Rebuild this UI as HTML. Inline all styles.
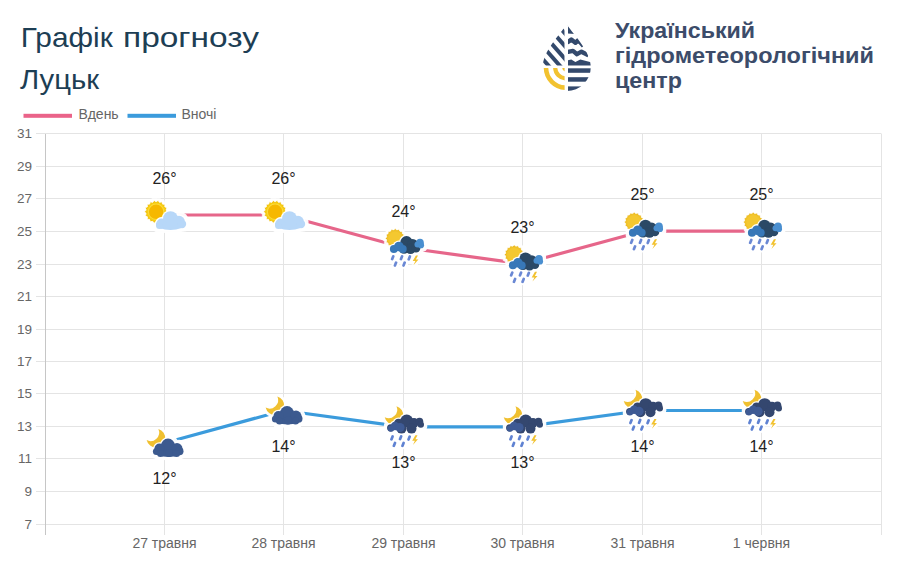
<!DOCTYPE html>
<html><head><meta charset="utf-8">
<style>
html,body{margin:0;padding:0;background:#fff;}
body{width:900px;height:588px;position:relative;overflow:hidden;font-family:"Liberation Sans",sans-serif;}
svg{position:absolute;left:0;top:0;}
.yl{font-size:13.5px;fill:#666;}
.xl{font-size:14px;fill:#666;}
.vl{font-size:16px;fill:#222;}
.t1{font-size:28px;fill:#1d3e54;}
.lg{font-size:14px;fill:#666;}
.ln{font-size:22px;font-weight:bold;fill:#3c4c6a;}
</style></head><body>
<svg width="900" height="588" viewBox="0 0 900 588">
<defs><filter id="glow" x="-40%" y="-40%" width="180%" height="180%" color-interpolation-filters="sRGB">
<feMorphology in="SourceAlpha" operator="dilate" radius="1.5" result="d"/>
<feGaussianBlur in="d" stdDeviation="0.6" result="b"/>
<feFlood flood-color="#ffffff" flood-opacity="0.95"/>
<feComposite in2="b" operator="in" result="w"/>
<feMerge><feMergeNode in="w"/><feMergeNode in="SourceGraphic"/></feMerge>
</filter><g id="sunc">
<polygon points="3.20,-3.20 1.45,-1.46 2.50,0.77 0.26,1.80 0.49,4.26 -1.97,4.46 -2.60,6.85 -4.98,6.20 -6.39,8.22 -8.40,6.80 -10.41,8.22 -11.82,6.20 -14.20,6.85 -14.83,4.46 -17.29,4.26 -17.06,1.80 -19.30,0.77 -18.25,-1.46 -20.00,-3.20 -18.25,-4.94 -19.30,-7.17 -17.06,-8.20 -17.29,-10.66 -14.83,-10.86 -14.20,-13.25 -11.82,-12.60 -10.41,-14.62 -8.40,-13.20 -6.39,-14.62 -4.98,-12.60 -2.60,-13.25 -1.97,-10.86 0.49,-10.66 0.26,-8.20 2.50,-7.17 1.45,-4.94" fill="#f0c010" stroke="#fff" stroke-width="0.8"/>
<circle cx="-8.4" cy="-3.2" r="9.6" fill="#f7cd14"/>
<circle cx="-8.4" cy="-3.2" r="8.2" fill="#fadc3c"/>
<circle cx="-8.4" cy="-3.2" r="7.2" fill="#f6b800"/>
<ellipse cx="6" cy="9.3" rx="15.9" ry="7.0" fill="#fff"/><circle cx="6" cy="3.6" r="8.8" fill="#fff"/><circle cx="14.5" cy="6.5" r="7.199999999999999" fill="#fff"/><circle cx="17.5" cy="9" r="5.6" fill="#fff"/><circle cx="-3" cy="8.5" r="6.4" fill="#fff"/><circle cx="-5" cy="10.5" r="4.9" fill="#fff"/><ellipse cx="6" cy="9.3" rx="14.5" ry="5.6" fill="#b7d7f8"/><circle cx="6" cy="3.6" r="7.4" fill="#b7d7f8"/><circle cx="14.5" cy="6.5" r="5.8" fill="#b7d7f8"/><circle cx="17.5" cy="9" r="4.2" fill="#b7d7f8"/><circle cx="-3" cy="8.5" r="5" fill="#b7d7f8"/><circle cx="-5" cy="10.5" r="3.5" fill="#b7d7f8"/>
</g><g id="storm">
<polygon points="1.50,-9.10 -0.06,-7.46 0.75,-5.35 -1.32,-4.43 -1.37,-2.17 -3.63,-2.12 -4.55,-0.05 -6.66,-0.86 -8.30,0.70 -9.94,-0.86 -12.05,-0.05 -12.97,-2.12 -15.23,-2.17 -15.28,-4.43 -17.35,-5.35 -16.54,-7.46 -18.10,-9.10 -16.54,-10.74 -17.35,-12.85 -15.28,-13.77 -15.23,-16.03 -12.97,-16.08 -12.05,-18.15 -9.94,-17.34 -8.30,-18.90 -6.66,-17.34 -4.55,-18.15 -3.63,-16.08 -1.37,-16.03 -1.32,-13.77 0.75,-12.85 -0.06,-10.74" fill="#eab81c" stroke="#fff" stroke-width="0.6"/>
<circle cx="-8.3" cy="-9.1" r="8.3" fill="#f0c22a"/>
<circle cx="-8.3" cy="-9.1" r="7" fill="#f4c830"/>
<circle cx="3" cy="-5.2" r="7.5" fill="#fff"/><circle cx="9.2" cy="-3.2" r="6.7" fill="#fff"/><circle cx="7" cy="1.4" r="6.5" fill="#fff"/><circle cx="0.5" cy="1" r="6.5" fill="#fff"/><circle cx="12.5" cy="0.8" r="5.6" fill="#fff"/><circle cx="16.5" cy="-5" r="5.1" fill="#fff"/><circle cx="17.5" cy="-2.3" r="4.4" fill="#fff"/><circle cx="14" cy="-3" r="4.3" fill="#fff"/><circle cx="-9.6" cy="1.5" r="5.3" fill="#fff"/><circle cx="-4.6" cy="-1" r="6.1" fill="#fff"/><circle cx="-0.8" cy="1.6" r="5.3" fill="#fff"/><circle cx="3" cy="-5.2" r="6.2" fill="#2b4966"/><circle cx="9.2" cy="-3.2" r="5.4" fill="#2b4966"/><circle cx="7" cy="1.4" r="5.2" fill="#2b4966"/><circle cx="0.5" cy="1" r="5.2" fill="#2b4966"/><circle cx="12.5" cy="0.8" r="4.3" fill="#2b4966"/><circle cx="16.5" cy="-5" r="3.8" fill="#4a8fd0"/><circle cx="17.5" cy="-2.3" r="3.1" fill="#4a8fd0"/><circle cx="14" cy="-3" r="3" fill="#4a8fd0"/><circle cx="-9.6" cy="1.5" r="4" fill="#3878b8"/><circle cx="-4.6" cy="-1" r="4.8" fill="#3878b8"/><circle cx="-0.8" cy="1.6" r="4" fill="#3878b8"/>
<rect x="-12.15" y="7.40" width="2.7" height="5.6" rx="1.2" fill="#6a88d4" transform="rotate(22 -10.8 10.2)"/><rect x="-3.35" y="7.40" width="2.7" height="5.6" rx="1.2" fill="#6a88d4" transform="rotate(22 -2 10.2)"/><rect x="4.45" y="7.60" width="2.7" height="5.6" rx="1.2" fill="#6a88d4" transform="rotate(22 5.8 10.4)"/><rect x="-9.35" y="13.80" width="2.7" height="5.6" rx="1.2" fill="#6a88d4" transform="rotate(22 -8 16.6)"/><rect x="-0.75" y="13.80" width="2.7" height="5.6" rx="1.2" fill="#6a88d4" transform="rotate(22 0.6 16.6)"/>
<path d="M12.4,8.0 L9.2,13.6 L11.9,13.6 L9.9,17.8 L15.0,12.1 L12.4,12.1 L14.5,8.0 Z" fill="#f2c230"/>
</g><g id="moonc">
<path d="M-6.12,-14.04 A9.4,9.4 0 1 1 -17.87,-2.92 A8.6,8.6 0 0 0 -6.12,-14.04 Z" fill="#f0c030"/>
<ellipse cx="4" cy="8.2" rx="15.3" ry="7.1" fill="#fff"/><circle cx="3.5" cy="2.6" r="8.3" fill="#fff"/><circle cx="-5" cy="5.5" r="6.3" fill="#fff"/><circle cx="12.5" cy="5.6" r="6.8" fill="#fff"/><circle cx="15" cy="8.2" r="5.3" fill="#fff"/><circle cx="-8" cy="8.5" r="4.9" fill="#fff"/><circle cx="-4" cy="10.5" r="4.8" fill="#fff"/><circle cx="4.6" cy="10" r="5.3" fill="#fff"/><circle cx="12" cy="10.5" r="4.9" fill="#fff"/><ellipse cx="4" cy="8.2" rx="14" ry="5.8" fill="#3c5a8f"/><circle cx="3.5" cy="2.6" r="7" fill="#3c5a8f"/><circle cx="-5" cy="5.5" r="5" fill="#3c5a8f"/><circle cx="12.5" cy="5.6" r="5.5" fill="#3c5a8f"/><circle cx="15" cy="8.2" r="4" fill="#3c5a8f"/><circle cx="-8" cy="8.5" r="3.6" fill="#3c5a8f"/><circle cx="-4" cy="10.5" r="3.5" fill="#3c5a8f"/><circle cx="4.6" cy="10" r="4" fill="#3c5a8f"/><circle cx="12" cy="10.5" r="3.6" fill="#3c5a8f"/>
</g><g id="nstorm">
<path d="M-7.02,-20.64 A9.4,9.4 0 1 1 -18.77,-9.52 A8.6,8.6 0 0 0 -7.02,-20.64 Z" fill="#f0c030"/>
<circle cx="3.2" cy="-5.8" r="7.8" fill="#fff"/><circle cx="-5" cy="-3.5" r="5.8" fill="#fff"/><circle cx="-12.8" cy="1" r="4.9" fill="#fff"/><circle cx="10.5" cy="-4" r="6.1" fill="#fff"/><circle cx="16" cy="-5.2" r="5.1" fill="#fff"/><circle cx="17.3" cy="-2.2" r="4.5" fill="#fff"/><circle cx="8" cy="1.8" r="6.3" fill="#fff"/><circle cx="-2" cy="1.8" r="6.3" fill="#fff"/><circle cx="-8.5" cy="-0.8" r="5.5" fill="#fff"/><circle cx="-12.6" cy="1.8" r="4.5" fill="#fff"/><circle cx="-3.5" cy="0.8" r="5.8999999999999995" fill="#fff"/><circle cx="3.2" cy="-5.8" r="6.5" fill="#34476f"/><circle cx="-5" cy="-3.5" r="4.5" fill="#34476f"/><circle cx="-12.8" cy="1" r="3.6" fill="#34476f"/><circle cx="10.5" cy="-4" r="4.8" fill="#34476f"/><circle cx="16" cy="-5.2" r="3.8" fill="#34476f"/><circle cx="17.3" cy="-2.2" r="3.2" fill="#34476f"/><circle cx="8" cy="1.8" r="5" fill="#34476f"/><circle cx="-2" cy="1.8" r="5" fill="#34476f"/><circle cx="-8.5" cy="-0.8" r="4.2" fill="#3e5a94"/><circle cx="-12.6" cy="1.8" r="3.2" fill="#3e5a94"/><circle cx="-3.5" cy="0.8" r="4.6" fill="#3e5a94"/>
<rect x="-12.85" y="8.30" width="2.7" height="5.6" rx="1.2" fill="#5f82d2" transform="rotate(22 -11.5 11.1)"/><rect x="-4.25" y="8.10" width="2.7" height="5.6" rx="1.2" fill="#5f82d2" transform="rotate(22 -2.9 10.9)"/><rect x="4.25" y="8.50" width="2.7" height="5.6" rx="1.2" fill="#5f82d2" transform="rotate(22 5.6 11.3)"/><rect x="-10.45" y="14.80" width="2.7" height="5.6" rx="1.2" fill="#5f82d2" transform="rotate(22 -9.1 17.6)"/><rect x="-1.85" y="14.80" width="2.7" height="5.6" rx="1.2" fill="#5f82d2" transform="rotate(22 -0.5 17.6)"/>
<path d="M11.9,8.4 L8.7,14.0 L11.4,14.0 L9.4,18.2 L14.5,12.5 L11.9,12.5 L14.0,8.4 Z" fill="#f2c230"/>
</g></defs>
<text x="20.8" y="47.3" class="t1" textLength="92" lengthAdjust="spacingAndGlyphs">Графік</text><text x="123" y="47.3" class="t1" textLength="136" lengthAdjust="spacingAndGlyphs">прогнозу</text>
<text x="20" y="88.6" class="t1" textLength="79" lengthAdjust="spacingAndGlyphs">Луцьк</text>
<rect x="23.5" y="113.8" width="48.5" height="4" fill="#ea6389"/>
<text x="78.5" y="119.4" class="lg">Вдень</text>
<rect x="127.5" y="113.8" width="48.5" height="4" fill="#3b9bdc"/>
<text x="181.5" y="119.4" class="lg">Вночі</text>
<clipPath id="dropclip"><path d="M566.7,24.5 C575,36 590.8,52 590.8,67 A24,24 0 0 1 542.8,67 C542.8,52 558.4,36 566.7,24.5 Z"/></clipPath>
<clipPath id="ulclip"><rect x="540" y="20" width="24.8" height="45.6"/></clipPath>
<clipPath id="llclip"><rect x="540" y="68" width="25" height="30"/></clipPath>
<g clip-path="url(#dropclip)">
  <g clip-path="url(#ulclip)" stroke="#33496c" stroke-width="4"><line x1="544.4" y1="10" x2="619.2" y2="95"/><line x1="533.2" y1="10" x2="608.0" y2="95"/><line x1="522.0" y1="10" x2="596.8" y2="95"/><line x1="510.8" y1="10" x2="585.6" y2="95"/><line x1="499.6" y1="10" x2="574.4" y2="95"/><line x1="488.4" y1="10" x2="563.2" y2="95"/></g>
  <g clip-path="url(#llclip)" fill="none" stroke="#f2c230">
    <circle cx="566.2" cy="67.5" r="20.2" stroke-width="4.6"/>
    <circle cx="566.2" cy="67.5" r="11" stroke-width="4.2"/>
    <circle cx="566.2" cy="67.5" r="2.6" stroke-width="2.8"/>
  </g>
  <g fill="none" stroke="#33496c" stroke-width="4.4" stroke-linejoin="round">
    <polyline points="565,42.3 568,42 571.3,39.6 575.4,42.8 578.3,40.1 583.5,46"/>
    <polyline points="565,52 568,51.9 573,50.9 577,54.2 581.5,51.7 588.5,55.4"/>
  </g>
  <g fill="#33496c">
    <path d="M567.8,24 L567.8,33.6 L575,34 Z"/>
    <path d="M568,60.3 L571.3,59.4 L575.4,62 L580.3,59.6 L590,62 L593,62 L593,65.4 L568,65.4 Z"/>
    <rect x="568" y="68.3" width="25" height="4.5"/>
    <rect x="568" y="77.2" width="25" height="4.5"/>
    <rect x="568" y="86.4" width="25" height="8"/>
  </g>
  <rect x="564.6" y="20" width="3.4" height="80" fill="#fff"/>
</g>

<text x="615" y="38.4" class="ln" textLength="140" lengthAdjust="spacingAndGlyphs">Український</text>
<text x="615" y="63.1" class="ln" textLength="259" lengthAdjust="spacingAndGlyphs">гідрометеорологічний</text>
<text x="615" y="87.8" class="ln" textLength="67" lengthAdjust="spacingAndGlyphs">центр</text>
<line x1="36" y1="524.5" x2="881.5" y2="524.5" stroke="#e4e4e4" stroke-width="1"/><text x="32" y="529.0" text-anchor="end" class="yl">7</text><line x1="36" y1="491.5" x2="881.5" y2="491.5" stroke="#e4e4e4" stroke-width="1"/><text x="32" y="496.0" text-anchor="end" class="yl">9</text><line x1="36" y1="458.5" x2="881.5" y2="458.5" stroke="#e4e4e4" stroke-width="1"/><text x="32" y="463.0" text-anchor="end" class="yl">11</text><line x1="36" y1="426.5" x2="881.5" y2="426.5" stroke="#e4e4e4" stroke-width="1"/><text x="32" y="431.0" text-anchor="end" class="yl">13</text><line x1="36" y1="393.5" x2="881.5" y2="393.5" stroke="#e4e4e4" stroke-width="1"/><text x="32" y="398.0" text-anchor="end" class="yl">15</text><line x1="36" y1="361.5" x2="881.5" y2="361.5" stroke="#e4e4e4" stroke-width="1"/><text x="32" y="366.0" text-anchor="end" class="yl">17</text><line x1="36" y1="329.5" x2="881.5" y2="329.5" stroke="#e4e4e4" stroke-width="1"/><text x="32" y="334.0" text-anchor="end" class="yl">19</text><line x1="36" y1="296.5" x2="881.5" y2="296.5" stroke="#e4e4e4" stroke-width="1"/><text x="32" y="301.0" text-anchor="end" class="yl">21</text><line x1="36" y1="264.5" x2="881.5" y2="264.5" stroke="#e4e4e4" stroke-width="1"/><text x="32" y="269.0" text-anchor="end" class="yl">23</text><line x1="36" y1="231.5" x2="881.5" y2="231.5" stroke="#e4e4e4" stroke-width="1"/><text x="32" y="236.0" text-anchor="end" class="yl">25</text><line x1="36" y1="198.5" x2="881.5" y2="198.5" stroke="#e4e4e4" stroke-width="1"/><text x="32" y="203.0" text-anchor="end" class="yl">27</text><line x1="36" y1="166.5" x2="881.5" y2="166.5" stroke="#e4e4e4" stroke-width="1"/><text x="32" y="171.0" text-anchor="end" class="yl">29</text><line x1="36" y1="133.5" x2="881.5" y2="133.5" stroke="#e4e4e4" stroke-width="1"/><text x="32" y="138.0" text-anchor="end" class="yl">31</text><line x1="45.5" y1="134" x2="45.5" y2="535" stroke="#c6c6c6" stroke-width="1"/><line x1="164.5" y1="134" x2="164.5" y2="535" stroke="#e4e4e4" stroke-width="1"/><line x1="283.5" y1="134" x2="283.5" y2="535" stroke="#e4e4e4" stroke-width="1"/><line x1="403.5" y1="134" x2="403.5" y2="535" stroke="#e4e4e4" stroke-width="1"/><line x1="522.5" y1="134" x2="522.5" y2="535" stroke="#e4e4e4" stroke-width="1"/><line x1="642.5" y1="134" x2="642.5" y2="535" stroke="#e4e4e4" stroke-width="1"/><line x1="761.5" y1="134" x2="761.5" y2="535" stroke="#e4e4e4" stroke-width="1"/><line x1="881.5" y1="134" x2="881.5" y2="535" stroke="#e4e4e4" stroke-width="1"/><text x="164.5" y="548.3" text-anchor="middle" class="xl">27 травня</text><text x="283.5" y="548.3" text-anchor="middle" class="xl">28 травня</text><text x="403.5" y="548.3" text-anchor="middle" class="xl">29 травня</text><text x="522.5" y="548.3" text-anchor="middle" class="xl">30 травня</text><text x="642.5" y="548.3" text-anchor="middle" class="xl">31 травня</text><text x="761.5" y="548.3" text-anchor="middle" class="xl">1 червня</text><polyline points="164.5,215.0 283.5,215.0 403.5,247.5 522.5,263.8 642.5,231.2 761.5,231.2" fill="none" stroke="#e6668a" stroke-width="3.2" stroke-linejoin="round"/><polyline points="164.5,443.0 283.5,410.5 403.5,426.8 522.5,426.8 642.5,410.5 761.5,410.5" fill="none" stroke="#3b9bdc" stroke-width="3.2" stroke-linejoin="round"/><use href="#sunc" x="164.5" y="215.0" filter="url(#glow)"/><text x="164.5" y="184.0" text-anchor="middle" class="vl">26°</text><use href="#sunc" x="283.5" y="215.0" filter="url(#glow)"/><text x="283.5" y="184.0" text-anchor="middle" class="vl">26°</text><use href="#storm" x="403.5" y="247.5" filter="url(#glow)"/><text x="403.5" y="216.5" text-anchor="middle" class="vl">24°</text><use href="#storm" x="522.5" y="263.8" filter="url(#glow)"/><text x="522.5" y="232.8" text-anchor="middle" class="vl">23°</text><use href="#storm" x="642.5" y="231.2" filter="url(#glow)"/><text x="642.5" y="200.2" text-anchor="middle" class="vl">25°</text><use href="#storm" x="761.5" y="231.2" filter="url(#glow)"/><text x="761.5" y="200.2" text-anchor="middle" class="vl">25°</text><use href="#moonc" x="164.5" y="443.0" filter="url(#glow)"/><text x="164.5" y="484.0" text-anchor="middle" class="vl">12°</text><use href="#moonc" x="283.5" y="410.5" filter="url(#glow)"/><text x="283.5" y="451.5" text-anchor="middle" class="vl">14°</text><use href="#nstorm" x="403.5" y="426.8" filter="url(#glow)"/><text x="403.5" y="467.8" text-anchor="middle" class="vl">13°</text><use href="#nstorm" x="522.5" y="426.8" filter="url(#glow)"/><text x="522.5" y="467.8" text-anchor="middle" class="vl">13°</text><use href="#nstorm" x="642.5" y="410.5" filter="url(#glow)"/><text x="642.5" y="451.5" text-anchor="middle" class="vl">14°</text><use href="#nstorm" x="761.5" y="410.5" filter="url(#glow)"/><text x="761.5" y="451.5" text-anchor="middle" class="vl">14°</text>
</svg>
</body></html>
